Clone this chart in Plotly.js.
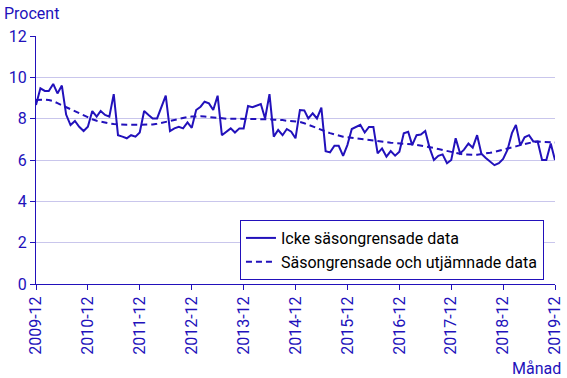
<!DOCTYPE html>
<html>
<head>
<meta charset="utf-8">
<script src="https://cdn.plot.ly/plotly-3.0.1.min.js"></script>
<style>html,body{margin:0;padding:0;background:#fff;}#chart{width:567px;height:378px;}</style>
</head>
<body>
<div id="chart"></div>
<script>
// Monthly values, 2009-12 .. 2019-12 (121 months)
const startYear = 2009, startMonth = 12, nMonths = 121;

const rawValues = [
  8.66, 9.47, 9.34, 9.34, 9.68, 9.22, 9.60, 8.20, 7.69, 7.89, 7.61, 7.40,
  7.61, 8.37, 8.10, 8.37, 8.18, 8.10, 9.19, 7.20, 7.13, 7.05, 7.20, 7.13,
  7.33, 8.37, 8.18, 8.01, 8.01, 8.58, 9.11, 7.40, 7.53, 7.61, 7.53, 7.82,
  7.56, 8.42, 8.58, 8.82, 8.74, 8.42, 9.11, 7.20, 7.37, 7.53, 7.33, 7.53,
  7.53, 8.61, 8.55, 8.61, 8.71, 8.01, 9.19, 7.13, 7.45, 7.20, 7.50, 7.37,
  7.05, 8.42, 8.40, 8.01, 8.26, 8.01, 8.53, 6.43, 6.37, 6.69, 6.69, 6.20,
  6.72, 7.50, 7.60, 7.70, 7.33, 7.60, 7.60, 6.32, 6.56, 6.16, 6.43, 6.21,
  6.40, 7.29, 7.37, 6.72, 7.20, 7.23, 7.40, 6.60, 6.00, 6.20, 6.27, 5.84,
  6.00, 7.05, 6.32, 6.50, 6.80, 6.60, 7.20, 6.30, 6.10, 5.90, 5.75, 5.85,
  6.05, 6.50, 7.30, 7.70, 6.70, 7.10, 7.20, 6.90, 6.90, 6.00, 6.00, 6.80,
  6.00
];

const trendValues = [
  8.90, 8.92, 8.92, 8.90, 8.85, 8.75, 8.65, 8.55, 8.45, 8.35, 8.25, 8.15,
  8.05, 7.97, 7.90, 7.85, 7.80, 7.77, 7.74, 7.72, 7.70, 7.70, 7.70, 7.70,
  7.70, 7.70, 7.70, 7.72, 7.75, 7.80, 7.85, 7.90, 7.95, 8.00, 8.05, 8.08,
  8.10, 8.12, 8.12, 8.10, 8.08, 8.05, 8.02, 8.00, 8.00, 8.00, 8.00, 8.00,
  8.00, 8.00, 8.00, 8.00, 8.00, 7.98, 7.97, 7.95, 7.95, 7.93, 7.90, 7.89,
  7.88, 7.84, 7.78, 7.70, 7.62, 7.54, 7.46, 7.38, 7.30, 7.24, 7.18, 7.13,
  7.10, 7.07, 7.04, 7.02, 7.00, 6.97, 6.94, 6.91, 6.88, 6.86, 6.84, 6.82,
  6.81, 6.80, 6.78, 6.76, 6.73, 6.70, 6.67, 6.63, 6.58, 6.53, 6.48, 6.43,
  6.39, 6.35, 6.30, 6.27, 6.25, 6.25, 6.26, 6.28, 6.31, 6.35, 6.39, 6.44,
  6.49, 6.54, 6.60, 6.66, 6.72, 6.78, 6.83, 6.87, 6.89, 6.89, 6.88, 6.86,
  6.85
];

const tickLabels = ["2009-12","2010-12","2011-12","2012-12","2013-12","2014-12",
                    "2015-12","2016-12","2017-12","2018-12","2019-12"];
const seriesNames = ["Icke säsongrensade data", "Säsongrensade och utjämnade data"];

// month category strings
const months = [];
for (let k = 0; k < nMonths; k++) {
  const m0 = startMonth - 1 + k;
  const y = startYear + Math.floor(m0 / 12);
  const m = (m0 % 12) + 1;
  months.push(y + "-" + String(m).padStart(2, "0") + "-01");
}
const tickVals = tickLabels.map(t => t + "-01");

const blue = "#2211bb";
const grid = "#c9c6ec";

const traces = [
  {x: months, y: rawValues, name: seriesNames[0], type: "scatter", mode: "lines",
   line: {color: blue, width: 2}},
  {x: months, y: trendValues, name: seriesNames[1], type: "scatter", mode: "lines",
   line: {color: blue, width: 2, dash: "6px,4px"}}
];

const layout = {
  width: 567, height: 378,
  margin: {l: 36, r: 12, t: 36, b: 94},
  paper_bgcolor: "#fff", plot_bgcolor: "#fff",
  font: {family: "Roboto, sans-serif", color: blue, size: 16},
  showlegend: true,
  legend: {x: 0.393, y: 0.258, xanchor: "left", yanchor: "top",
           bordercolor: blue, borderwidth: 1, bgcolor: "#fff",
           font: {size: 16, color: "#000"}, tracegroupgap: 0,
           itemwidth: 30},
  xaxis: {
    type: "date", range: [months[0], months[nMonths - 1]],
    tickvals: tickVals, ticktext: tickLabels, tickangle: -90,
    ticks: "outside", ticklen: 5, tickcolor: blue, tickwidth: 1,
    showline: true, linecolor: blue, linewidth: 1,
    showgrid: false, zeroline: false,
    tickfont: {size: 16, color: blue}
  },
  yaxis: {
    range: [0, 12], tickvals: [0, 2, 4, 6, 8, 10, 12],
    ticks: "outside", ticklen: 5, tickcolor: blue, tickwidth: 1,
    showline: true, linecolor: blue, linewidth: 1,
    showgrid: true, gridcolor: grid, gridwidth: 1, zeroline: false,
    tickfont: {size: 16, color: blue}
  },
  annotations: [
    {text: "Procent", xref: "paper", yref: "paper", x: -0.065, y: 1.09,
     xanchor: "left", yanchor: "middle", showarrow: false, font: {size: 16, color: blue}},
    {text: "Månad", xref: "paper", yref: "paper", x: 1.015, y: -0.34,
     xanchor: "right", yanchor: "middle", showarrow: false, font: {size: 16, color: blue}}
  ]
};

Plotly.newPlot("chart", traces, layout, {displayModeBar: false, staticPlot: true});
</script>
</body>
</html>
